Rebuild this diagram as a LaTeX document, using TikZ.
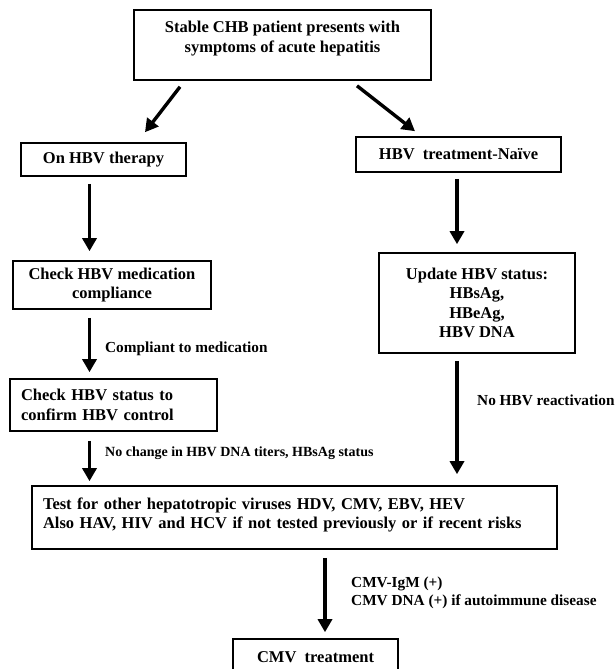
\documentclass[tikz,border=0pt]{standalone}
\usepackage{fontspec}
\setmainfont{Liberation Serif}
\usetikzlibrary{positioning,calc,arrows.meta}

\newcommand{\boxfont}{\fontsize{16.5}{19.5}\selectfont}
\newcommand{\lblfont}{\fontsize{15.3}{18}\selectfont}
\newcommand{\smlfont}{\fontsize{14}{16}\selectfont}
\tikzset{
  box/.style={draw,line width=1.6pt,font=\bfseries\boxfont,align=center,inner sep=0pt},
  arr/.style={line width=3.4pt,-{Triangle[width=14pt,length=13pt]}},
  lbl/.style={font=\bfseries\lblfont,anchor=west,inner sep=0pt,align=left}
}

\begin{document}
\begin{tikzpicture}[x=1pt,y=-1pt]
            \useasboundingbox (0,0) rectangle (614,669);
            \clip (0,0) rectangle (614,669);
            % Boxes
            \node[box,minimum width=297pt,minimum height=70pt,text depth=16pt] (start) at (282.5,45) {Stable CHB patient presents with\\symptoms of acute hepatitis};
            \node[box,minimum width=165pt,minimum height=33pt] (onhbv) at (103.5,159.5) {On HBV therapy};
            \node[box,minimum width=205pt,minimum height=35pt] (naive) at (458.5,154.5) {HBV\ \ treatment-Naïve};
            \node[box,minimum width=198pt,minimum height=48pt] (compl) at (112,285) {Check HBV medication\\compliance};
            \node[box,align=left,text width=185pt,inner xsep=11pt,minimum height=52pt] (status) at (113.5,405) {Check HBV status to\\confirm HBV control};
            \node[box,minimum width=196pt,minimum height=100pt] (update) at (477,303) {Update HBV status:\\HBsAg,\\HBeAg,\\HBV DNA};
            \node[box,align=left,text width=503pt,inner xsep=11pt,minimum height=63pt,text depth=28pt] (test) at (294.5,517.5) {Test for other hepatotropic viruses HDV, CMV, EBV, HEV\\Also HAV, HIV and HCV if not tested previously or if recent risks};
            \node[box,minimum width=165pt,minimum height=36pt] (cmv) at (315.5,657) {CMV\ \ treatment};
            % Columns
            \coordinate (lcol) at (89.5,0);
            \coordinate (rcol) at (457,0);
            \coordinate (mcol) at (325,0);
            % Arrows
            \draw[arr] ($(start.south)+(-102.5,6)$) -- ($(onhbv.north)+(41.5,-10)$);
            \draw[arr] ($(start.south)+(74.5,5)$) -- ($(naive.north)+(-43.5,-5)$);
            \draw[arr] ($(onhbv.south -| lcol)+(0,7)$) -- ($(compl.north -| lcol)+(0,-9)$);
            \draw[arr] ($(compl.south -| lcol)+(0,8)$) -- ($(status.north -| lcol)+(0,-6)$);
            \draw[arr] ($(status.south -| lcol)+(0,9)$) -- ($(test.north -| lcol)+(0,-4)$);
            \draw[arr] ($(naive.south -| rcol)+(0,6)$) -- ($(update.north -| rcol)+(0,-8)$);
            \draw[arr] ($(update.south -| rcol)+(0,7)$) -- ($(test.north -| rcol)+(0,-11)$);
            \draw[arr] ($(test.south -| mcol)+(0,8)$) -- ($(cmv.north -| mcol)+(0,-6)$);
            % Labels
            \node[lbl] (lcompl) at (105,349) {Compliant to medication};
            \node[lbl,font=\bfseries\smlfont] (lnochg) at (105,453) {No change in HBV DNA titers, HBsAg status};
            \node[lbl] (lnoreact) at (477,400) {No HBV reactivation};
            \node[lbl] (lcmv) at (351,593) {CMV-IgM (+)\\CMV DNA (+) if autoimmune disease};
\end{tikzpicture}
\end{document}
